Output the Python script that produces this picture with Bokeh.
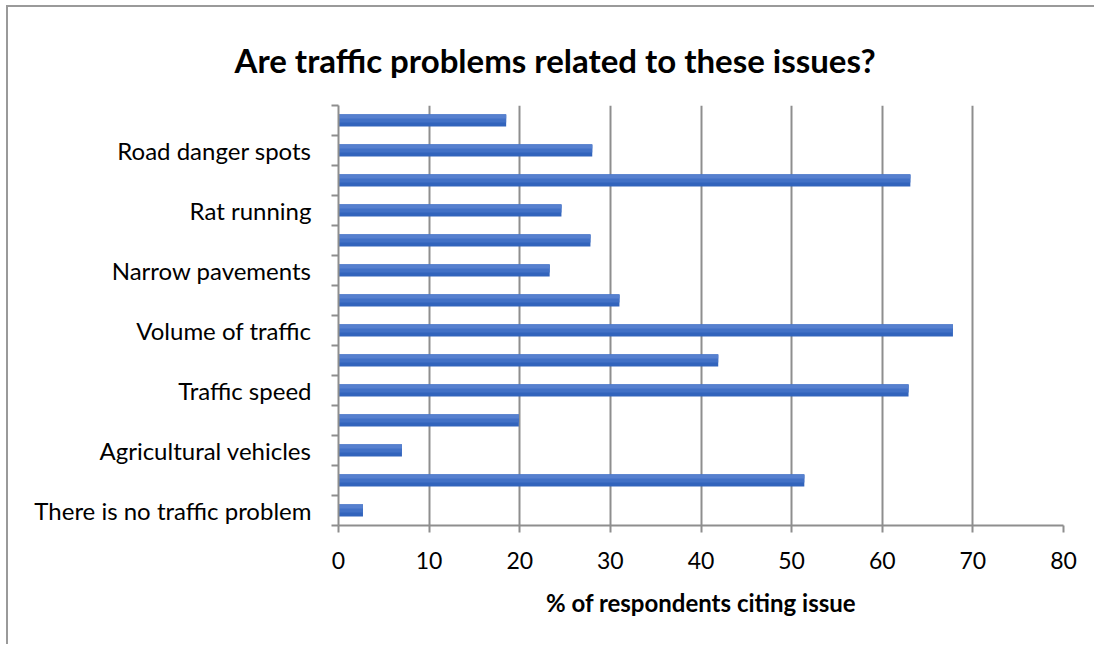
from bokeh.plotting import figure
from bokeh.models import FixedTicker, Range1d
from bokeh.embed import file_html
from bokeh.resources import INLINE

# ---- data (bottom to top) ----
categories = ["There is no traffic problem", "", "Agricultural vehicles", "",
              "Traffic speed", "", "Volume of traffic", "", "Narrow pavements", "",
              "Rat running", "", "Road danger spots", ""]
values = [2.7, 51.4, 7.0, 19.9, 62.9, 41.9, 67.8, 31.0, 23.3, 27.8, 24.6, 63.1, 28.0, 18.5]
x_ticks = [0, 10, 20, 30, 40, 50, 60, 70, 80]
title_text = "Are traffic problems related to these issues?"
x_label = "% of respondents citing issue"

FONT = "Lato"
GRID = "#8e8e8e"

n = len(categories)
pos = [i + 0.5 for i in range(n)]

p = figure(width=1088, height=639, output_backend="svg", toolbar_location=None,
           x_range=Range1d(0, 80), y_range=Range1d(0, n),
           min_border_left=330, min_border_right=33, min_border_top=98, min_border_bottom=121)
p.outline_line_color = None
p.background_fill_color = "white"
p.styles = {"margin-left": "6px", "margin-top": "5px",
            "border-left": "2px solid #9a9a9a", "border-top": "2px solid #9a9a9a"}

# title
p.title.text = title_text
p.title.align = "left"
p.title.offset = -104
p.title.standoff = 52
p.title.text_font = FONT
p.title.text_font_size = "33px"
p.title.text_font_style = "bold"
p.title.text_color = "black"

# gradient-like bars: base plus lighter overlays toward the top
bar_h = 0.4
p.hbar(y=pos, right=values, left=0, height=bar_h, fill_color="#3264bc", line_color=None)
p.hbar(y=[y + bar_h / 6 for y in pos], right=values, left=0, height=bar_h * 2 / 3,
       fill_color="#4271c6", line_color=None)
p.hbar(y=[y + bar_h / 3 for y in pos], right=values, left=0, height=bar_h / 3,
       fill_color="#5680cf", line_color=None)

# grid
p.ygrid.grid_line_color = None
p.xgrid.grid_line_color = GRID
p.xgrid.grid_line_width = 2
p.xgrid.ticker = FixedTicker(ticks=x_ticks)

# x axis
xa = p.xaxis[0]
xa.ticker = FixedTicker(ticks=x_ticks)
xa.axis_line_color = GRID
xa.axis_line_width = 2
xa.major_tick_line_color = GRID
xa.major_tick_line_width = 2
xa.major_tick_out = 7
xa.major_tick_in = 0
xa.minor_tick_line_color = None
xa.major_label_text_font = FONT
xa.major_label_text_font_size = "23px"
xa.major_label_text_color = "black"
xa.major_label_standoff = 19
xa.axis_label = x_label
xa.axis_label_text_font = FONT
xa.axis_label_text_font_size = "24px"
xa.axis_label_text_font_style = "bold"
xa.axis_label_text_color = "black"
xa.axis_label_standoff = 16

# y axis
ya = p.yaxis[0]
label_pos = [pos[i] for i in range(n) if categories[i]]
ya.ticker = FixedTicker(ticks=label_pos, minor_ticks=list(range(n + 1)))
ya.major_label_overrides = {pos[i]: categories[i] for i in range(n) if categories[i]}
ya.axis_line_color = GRID
ya.axis_line_width = 2
ya.major_tick_line_color = None
ya.major_tick_out = 0
ya.major_tick_in = 0
ya.minor_tick_line_color = GRID
ya.minor_tick_line_width = 2
ya.minor_tick_out = 7
ya.minor_tick_in = 0
ya.major_label_text_font = FONT
ya.major_label_text_font_size = "24px"
ya.major_label_text_color = "black"
ya.major_label_standoff = 20

open("out.html", "w").write(file_html(p, INLINE))
